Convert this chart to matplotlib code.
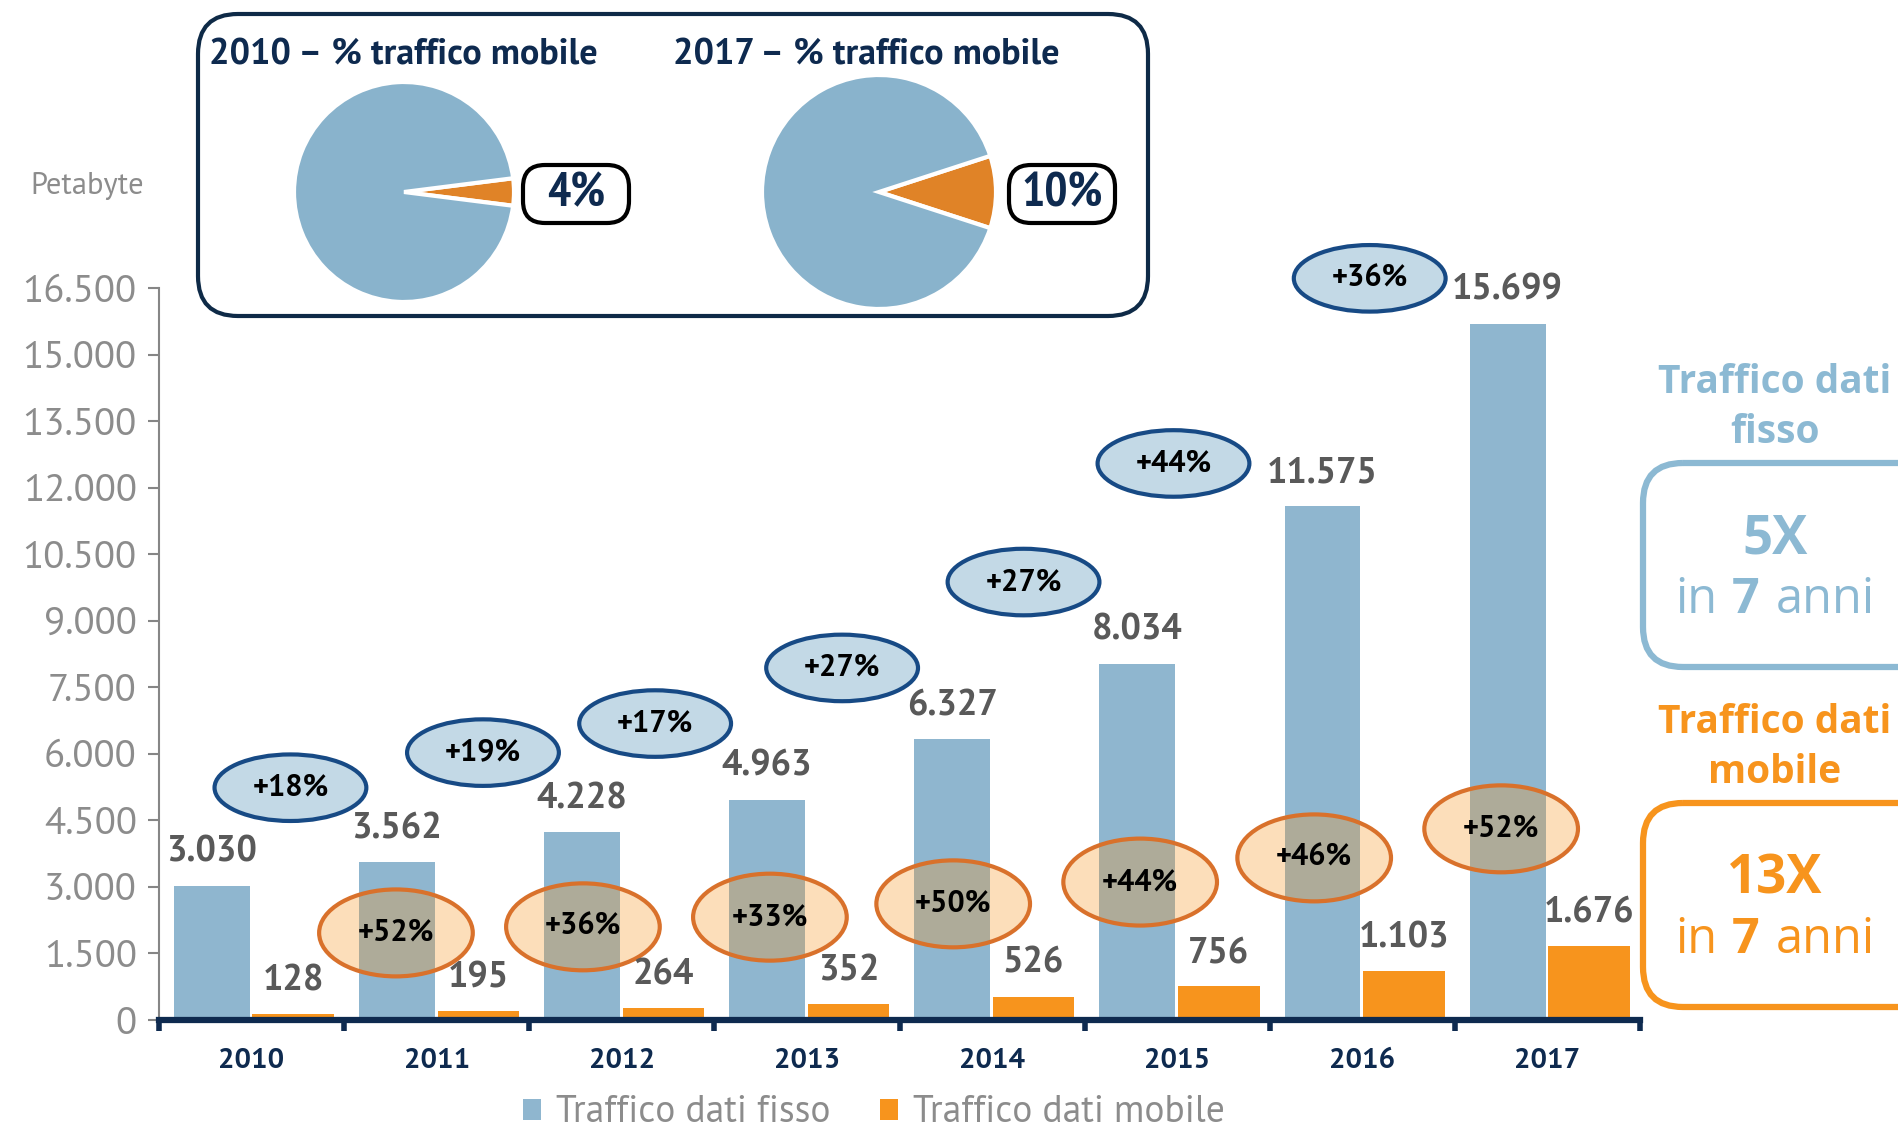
import matplotlib
matplotlib.use("Agg")
import matplotlib.pyplot as plt
from matplotlib.patches import Ellipse, FancyBboxPatch
from matplotlib.ticker import FixedLocator

NARROW = ['PT Sans Narrow', 'DejaVu Sans']
PT = ['PT Sans', 'DejaVu Sans']
LARGO = ['Open Sans', 'DejaVu Sans']
plt.rcParams['font.family'] = PT

# dati (Petabyte)
anni = ['2010', '2011', '2012', '2013', '2014', '2015', '2016', '2017']
fisso = [3030, 3562, 4228, 4963, 6327, 8034, 11575, 15699]
mobile = [128, 195, 264, 352, 526, 756, 1103, 1676]
crescita_fisso = ['+18%', '+19%', '+17%', '+27%', '+27%', '+44%', '+36%']
crescita_mobile = ['+52%', '+36%', '+33%', '+50%', '+44%', '+46%', '+52%']
quota_mobile = {'2010': 4, '2017': 10}
y_ticks = list(range(0, 16501, 1500))

# posizione delle "bolle" (layout, non dati)
bolla_fisso_x = [0.21, 1.25, 2.18, 3.19, 4.17, 4.98, 6.04]
bolla_fisso_y = [5236, 6027, 6682, 7936, 9872, 12545, 16718]
bolla_mob_x = [0.78, 1.79, 2.80, 3.79, 4.80, 5.74, 6.75]
bolla_mob_y = [1963, 2100, 2318, 2618, 3109, 3654, 4309]

BLU = '#8fb6cf'
ARANCIO = '#f7941d'
NAVY = '#0e2a4f'
GRIGIO = '#8c8c8c'
GRIGIO_SCURO = '#595959'

W, H = 1898, 1128
fig = plt.figure(figsize=(W / 100, H / 100), dpi=100)

# --- grafico principale ---
ax = fig.add_axes([159 / W, 1 - 1020 / H, (1640 - 159) / W, (1020 - 288) / H])
x = list(range(len(anni)))
b1 = ax.bar([i - 0.42 for i in x], fisso, width=0.41, align='edge', color=BLU,
            label='Traffico dati fisso', zorder=2)
b2 = ax.bar([i + 0.005 for i in x], mobile, width=0.44, align='edge', color=ARANCIO,
            label='Traffico dati mobile', zorder=2)

def fmt(v):
    return f"{v:,}".replace(",", ".")

for i in x:
    ax.annotate(fmt(fisso[i]), (i - 0.215, fisso[i]), xytext=(0, 24), textcoords='offset points',
                ha='center', va='center', fontsize=26, fontweight='bold', color=GRIGIO_SCURO,
                annotation_clip=False, zorder=5)
    ax.annotate(fmt(mobile[i]), (i + 0.225, mobile[i]), xytext=(0, 24), textcoords='offset points',
                ha='center', va='center', fontsize=26, fontweight='bold', color=GRIGIO_SCURO,
                annotation_clip=False, zorder=5)

for k in range(len(crescita_fisso)):
    e = Ellipse((bolla_fisso_x[k], bolla_fisso_y[k]), 0.82, 1500, facecolor='#c3d9e6',
                edgecolor='#174a85', lw=3, zorder=3, clip_on=False)
    ax.add_patch(e)
    ax.text(bolla_fisso_x[k], bolla_fisso_y[k], crescita_fisso[k], ha='center', va='center',
            fontsize=22, fontweight='bold', color='black', zorder=4, clip_on=False)
    e = Ellipse((bolla_mob_x[k], bolla_mob_y[k]), 0.83, 1960, facecolor=(0.97, 0.58, 0.11, 0.3),
                edgecolor='#d9712b', lw=3, zorder=3, clip_on=False)
    ax.add_patch(e)
    ax.text(bolla_mob_x[k], bolla_mob_y[k], crescita_mobile[k], ha='center', va='center',
            fontsize=22, fontweight='bold', color='black', zorder=4, clip_on=False)

ax.set_xlim(-0.5, 7.5)
ax.set_ylim(0, 16500)
ax.set_yticks(y_ticks)
ax.set_yticklabels([fmt(v) for v in y_ticks], fontsize=28, color=GRIGIO)
ax.tick_params(axis='y', length=8, width=1.5, color='#868686', pad=8)
ax.xaxis.set_major_locator(FixedLocator([i - 0.5 for i in range(len(anni) + 1)]))
ax.xaxis.set_minor_locator(FixedLocator(x))
ax.set_xticklabels([], minor=False)
ax.set_xticklabels(anni, minor=True, fontsize=21, fontweight='bold', color=NAVY)
ax.tick_params(axis='x', which='major', length=8, width=4, color=NAVY)
ax.tick_params(axis='x', which='minor', length=0, pad=20)
for s in ['top', 'right']:
    ax.spines[s].set_visible(False)
ax.spines['left'].set_color('#868686')
ax.spines['left'].set_linewidth(1.5)
ax.spines['bottom'].set_color(NAVY)
ax.spines['bottom'].set_linewidth(4.5)
ax.spines['bottom'].set_zorder(6)

leg = fig.legend(handles=[b1, b2], loc='center', bbox_to_anchor=(874 / W, 1 - 1113 / H), ncol=2,
                 frameon=False, fontsize=27, handlelength=0.5, handleheight=0.5,
                 handletextpad=0.4, columnspacing=1.3)
for t in leg.get_texts():
    t.set_color(GRIGIO)

# --- livello di decorazione in pixel ---
ov = fig.add_axes([0, 0, 1, 1], zorder=10)
ov.set_xlim(0, W)
ov.set_ylim(H, 0)
ov.axis('off')
ov.patch.set_alpha(0)

ov.add_patch(FancyBboxPatch((198, 14), 950, 302, boxstyle='round,pad=0,rounding_size=40',
                            facecolor='white', edgecolor='#0e2a47', lw=3))
ov.text(209, 55, '2010 – % traffico mobile', ha='left', va='center', fontsize=26,
        fontweight='bold', color=NAVY)
ov.text(673, 55, '2017 – % traffico mobile', ha='left', va='center', fontsize=26,
        fontweight='bold', color=NAVY)
ov.text(87, 186, 'Petabyte', ha='center', va='center', fontsize=22, color=GRIGIO)

# torte
for anno, cx, cy, r, bx in [('2010', 404, 192, 110, 576), ('2017', 879, 192, 117, 1062)]:
    q = quota_mobile[anno]
    pax = fig.add_axes([(cx - r) / W, 1 - (cy + r) / H, 2 * r / W, 2 * r / H], zorder=11)
    pax.pie([q, 100 - q], colors=['#e08327', '#89b3cc'], startangle=-q * 3.6 / 2,
            counterclock=True, wedgeprops=dict(edgecolor='white', linewidth=3))
    pax.set_xlim(-1.0, 1.0)
    pax.set_ylim(-1.0, 1.0)
    pax.set_aspect('auto')
    ov.add_patch(FancyBboxPatch((bx - 53, cy - 27), 106, 58,
                                boxstyle='round,pad=0,rounding_size=22',
                                facecolor='white', edgecolor='black', lw=3))
    ov.text(bx, cy + 2, f'{q}%', ha='center', va='center', fontsize=35,
            fontweight='bold', color=NAVY, family=NARROW)

# riquadri a destra
for riga1, riga2, mult, col, dy in [('Traffico dati', 'fisso', '5X', '#8cb9d3', 0),
                                    ('Traffico dati', 'mobile', '13X', ARANCIO, 340)]:
    ov.text(1775, 393 + dy, riga1, ha='center', va='baseline', fontsize=28, fontweight='bold',
            color=col, family=LARGO)
    ov.text(1775, 443 + dy, riga2, ha='center', va='baseline', fontsize=28, fontweight='bold',
            color=col, family=LARGO)
    ov.add_patch(FancyBboxPatch((1643, 463 + dy), 300, 204,
                                boxstyle='round,pad=0,rounding_size=40',
                                facecolor='none', edgecolor=col, lw=4.5, clip_on=False))
    ov.text(1775, 553 + dy, mult, ha='center', va='baseline', fontsize=38, fontweight='bold',
            color=col, family=LARGO)
    ov.text(1717, 613 + dy, 'in', ha='right', va='baseline', fontsize=35, color=col, family=LARGO)
    ov.text(1746, 613 + dy, '7', ha='center', va='baseline', fontsize=35, fontweight='bold',
            color=col, family=LARGO)
    ov.text(1776, 613 + dy, 'anni', ha='left', va='baseline', fontsize=35, color=col, family=LARGO)

fig.savefig('out.png', dpi=100)
